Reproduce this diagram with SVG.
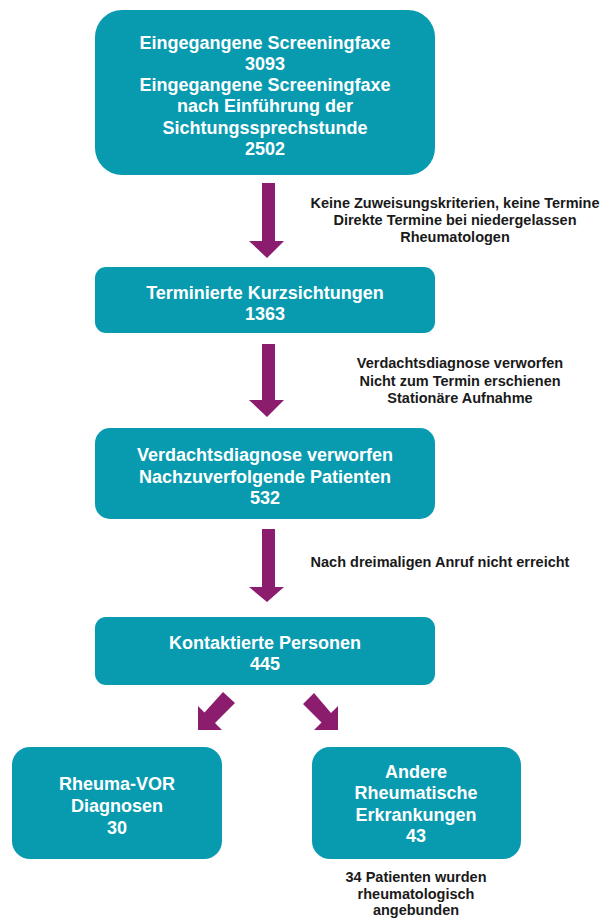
<svg xmlns="http://www.w3.org/2000/svg" width="605" height="923" viewBox="0 0 605 923">
  <style>
    .box { fill: #089bb0; }
    .bt { font-family: "Liberation Sans", Arial, sans-serif; font-weight: bold; font-size: 18px; fill: #ffffff; text-anchor: middle; }
    .lbl { font-family: "Liberation Sans", Arial, sans-serif; font-weight: bold; font-size: 14.5px; fill: #1a1a1a; text-anchor: middle; }
    .arrow { fill: #8c1c6e; }
  </style>
  <rect width="605" height="923" fill="#ffffff"/>

  <!-- connectors: block arrows between the stages -->
  <g id="connectors">
    <path class="arrow" d="M262,183 H275 V241 H284 L267,258 L249,241 H262 Z"/>
    <path class="arrow" d="M262,344 H275 V400 H284 L267,417 L249,400 H262 Z"/>
    <path class="arrow" d="M262,529 H275 V587 H284 L267,602 L249,587 H262 Z"/>
    <!-- diagonal split arrows -->
    <path class="arrow" d="M223,692 L235,703 L215,723 L222,730 L198,730 L198,706 L204.5,712.5 Z"/>
    <path class="arrow" d="M314,693 L303,704 L321.5,722.5 L314,730 L338,730 L338,706 L331,713 Z"/>
  </g>

  <!-- stage 1 -->
  <g id="node-screeningfaxe">
    <rect class="box" x="95" y="10" width="340" height="165" rx="27"/>
    <text class="bt" x="265" y="48.5">Eingegangene Screeningfaxe</text>
    <text class="bt" x="265" y="69.8">3093</text>
    <text class="bt" x="265" y="91.1">Eingegangene Screeningfaxe</text>
    <text class="bt" x="265" y="112.4">nach Einführung der</text>
    <text class="bt" x="265" y="133.7">Sichtungssprechstunde</text>
    <text class="bt" x="265" y="155">2502</text>
  </g>

  <g id="label-1">
    <text class="lbl" x="455" y="208">Keine Zuweisungskriterien, keine Termine</text>
    <text class="lbl" x="455" y="225">Direkte Termine bei niedergelassen</text>
    <text class="lbl" x="455" y="242">Rheumatologen</text>
  </g>

  <!-- stage 2 -->
  <g id="node-kurzsichtungen">
    <rect class="box" x="95" y="267" width="340" height="66" rx="11"/>
    <text class="bt" x="265" y="298.5">Terminierte Kurzsichtungen</text>
    <text class="bt" x="265" y="319.5">1363</text>
  </g>

  <g id="label-2">
    <text class="lbl" x="460" y="368">Verdachtsdiagnose verworfen</text>
    <text class="lbl" x="460" y="386">Nicht zum Termin erschienen</text>
    <text class="lbl" x="460" y="403">Stationäre Aufnahme</text>
  </g>

  <!-- stage 3 -->
  <g id="node-nachverfolgung">
    <rect class="box" x="95" y="428" width="340" height="91" rx="15"/>
    <text class="bt" x="265" y="461">Verdachtsdiagnose verworfen</text>
    <text class="bt" x="265" y="483">Nachzuverfolgende Patienten</text>
    <text class="bt" x="265" y="504">532</text>
  </g>

  <g id="label-3">
    <text class="lbl" x="440" y="567">Nach dreimaligen Anruf nicht erreicht</text>
  </g>

  <!-- stage 4 -->
  <g id="node-kontaktiert">
    <rect class="box" x="95" y="617" width="340" height="68" rx="11"/>
    <text class="bt" x="265" y="648.5">Kontaktierte Personen</text>
    <text class="bt" x="265" y="669.5">445</text>
  </g>

  <!-- outcomes -->
  <g id="node-rheuma-vor">
    <rect class="box" x="12" y="747" width="210" height="112" rx="18"/>
    <text class="bt" x="117" y="789.5">Rheuma-VOR</text>
    <text class="bt" x="117" y="811.5">Diagnosen</text>
    <text class="bt" x="117" y="833.5">30</text>
  </g>

  <g id="node-andere">
    <rect class="box" x="312" y="747" width="209" height="112" rx="18"/>
    <text class="bt" x="416" y="777.5">Andere</text>
    <text class="bt" x="416" y="798.5">Rheumatische</text>
    <text class="bt" x="416" y="820.5">Erkrankungen</text>
    <text class="bt" x="416" y="841.5">43</text>
  </g>

  <g id="label-4">
    <text class="lbl" x="416" y="882">34 Patienten wurden</text>
    <text class="lbl" x="416" y="899">rheumatologisch</text>
    <text class="lbl" x="416" y="915">angebunden</text>
  </g>
</svg>
